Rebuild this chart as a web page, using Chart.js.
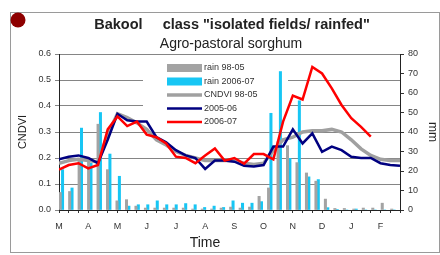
<!DOCTYPE html>
<html>
<head>
<meta charset="utf-8">
<script src="https://cdn.jsdelivr.net/npm/chart.js@4"></script>
<style>
html,body{margin:0;padding:0;background:#fff;}
#wrap{width:440px;height:255px;position:relative;}
</style>
</head>
<body>
<div id="wrap"><canvas id="c" width="440" height="255"></canvas></div>
<script>
// ---- data ----
const months = ['M','A','M','J','J','A','S','O','N','D','J','F'];
const dekadLabels = months.flatMap(m => [m + '1', m + '2', m + '3']);
const leftTicks = [0, 0.1, 0.2, 0.3, 0.4, 0.5, 0.6];
const rightTicks = [0, 10, 20, 30, 40, 50, 60, 70, 80];

const rain9805 = [9, 9.5, 25, 27, 44, 20.7, 4.7, 5.3, 2, 1, 1, 1, 1, 1, 0.5, 0.5, 0.5, 1, 1.5, 1, 1.5, 7, 11.3, 35, 33, 24.3, 19, 14.8, 5.6, 0.8, 0.8, 0.5, 1, 1, 3.5, 0.5];
const rain0607 = [20.7, 11.3, 42, 24, 50, 28.7, 17.3, 2, 2.7, 2.7, 4.7, 2.7, 2.7, 3.3, 2.7, 1.3, 2, 1.3, 4.7, 3.5, 3.5, 4.3, 49.6, 71, 26.5, 56, 17, 15.6, 1.2, 0.3, 0, 0.5, 0, 0, 0, 0];

const cndvi9805 = [0.18, 0.19, 0.195, 0.19, 0.185, 0.29, 0.37, 0.355, 0.335, 0.31, 0.27, 0.25, 0.225, 0.21, 0.2, 0.19, 0.19, 0.19, 0.19, 0.18, 0.175, 0.18, 0.23, 0.27, 0.28, 0.3, 0.305, 0.305, 0.31, 0.3, 0.27, 0.235, 0.21, 0.195, 0.19, 0.19];
const cndvi0506 = [0.195, 0.205, 0.21, 0.2, 0.18, 0.27, 0.37, 0.345, 0.34, 0.34, 0.28, 0.26, 0.23, 0.21, 0.2, 0.158, 0.19, 0.19, 0.186, 0.17, 0.167, 0.173, 0.244, 0.244, 0.31, 0.256, 0.295, 0.224, 0.244, 0.23, 0.205, 0.2, 0.2, 0.18, 0.173, 0.17];
const cndvi0607 = [0.155, 0.173, 0.18, 0.16, 0.173, 0.31, 0.36, 0.323, 0.34, 0.29, 0.28, 0.256, 0.205, 0.2, 0.18, 0.21, 0.237, 0.19, 0.2, 0.178, 0.215, 0.215, 0.195, 0.34, 0.44, 0.425, 0.55, 0.525, 0.468, 0.404, 0.353, 0.32, 0.282, null, null, null];

const titleText = 'Bakool     class "isolated fields/ rainfed"';
const subtitleText = 'Agro-pastoral sorghum';
const xTitle = 'Time';

// ---- helpers ----
const FONT = '"Liberation Sans", Arial, sans-serif';
const toXY = arr => arr.map((v, i) => ({x: i, y: v}));

const decor = {
  id: 'decor',
  beforeDraw(chart) {
    const ctx = chart.ctx;
    ctx.save();
    ctx.fillStyle = '#fff';
    ctx.fillRect(0, 0, chart.width, chart.height);
    // outer frame
    ctx.strokeStyle = '#9a9a9a';
    ctx.lineWidth = 1;
    ctx.strokeRect(10.5, 12.5, 429, 240);
    // red dot
    ctx.fillStyle = '#8e0000';
    ctx.beginPath();
    ctx.arc(18, 20, 7.5, 0, Math.PI * 2);
    ctx.fill();
    // titles
    ctx.fillStyle = '#222';
    ctx.textAlign = 'center';
    ctx.textBaseline = 'middle';
    ctx.font = 'bold 14.5px ' + FONT;
    ctx.fillText(titleText, 232, 25);
    ctx.font = '14px ' + FONT;
    ctx.fillText(subtitleText, 231, 44);
    ctx.font = '14px ' + FONT;
    ctx.fillText(xTitle, 205, 243);
    ctx.restore();
  },
  beforeDatasetsDraw(chart) {
    const ctx = chart.ctx;
    ctx.save();
    ctx.fillStyle = '#fff';
    ctx.fillRect(143, 57, 145, 71);
    const items = chart.data.datasets;
    ctx.font = '9px ' + FONT;
    ctx.textAlign = 'left';
    ctx.textBaseline = 'middle';
    items.forEach((ds, k) => {
      const y = 68 + k * 13.5;
      if (ds.type === 'bar') {
        ctx.fillStyle = ds.backgroundColor;
        ctx.fillRect(167, y - 4, 35, 8);
      } else {
        ctx.strokeStyle = ds.borderColor;
        ctx.lineWidth = ds.borderWidth;
        ctx.beginPath();
        ctx.moveTo(167, y);
        ctx.lineTo(202, y);
        ctx.stroke();
      }
      ctx.fillStyle = '#333';
      ctx.fillText(ds.label, 204, y);
    });
    ctx.restore();
  }
};

new Chart(document.getElementById('c'), {
  data: {
    labels: dekadLabels,
    datasets: [
      {type: 'bar', label: 'rain 98-05', data: rain9805, backgroundColor: '#a3a3a3', xAxisID: 'x', yAxisID: 'y2', order: 5, categoryPercentage: 1, barPercentage: 1},
      {type: 'bar', label: 'rain 2006-07', data: rain0607, backgroundColor: '#17c6f4', xAxisID: 'x', yAxisID: 'y2', order: 5, categoryPercentage: 1, barPercentage: 1},
      {type: 'line', label: 'CNDVI 98-05', data: toXY(cndvi9805), borderColor: '#a0a0a0', borderWidth: 3.5, pointRadius: 0, tension: 0, xAxisID: 'xl', yAxisID: 'y', order: 3},
      {type: 'line', label: '2005-06', data: toXY(cndvi0506), borderColor: '#000080', borderWidth: 2.5, pointRadius: 0, tension: 0, xAxisID: 'xl', yAxisID: 'y', order: 2},
      {type: 'line', label: '2006-07', data: toXY(cndvi0607), borderColor: '#ff0000', borderWidth: 2.5, pointRadius: 0, tension: 0, xAxisID: 'xl', yAxisID: 'y', order: 1, spanGaps: false}
    ]
  },
  options: {
    responsive: false,
    devicePixelRatio: 1,
    animation: false,
    layout: {padding: {top: 54, left: 0, right: 0, bottom: 0}},
    plugins: {legend: {display: false}, tooltip: {enabled: false}, title: {display: false}},
    scales: {
      x: {type: 'category', display: false, offset: true, grid: {display: false}},
      xl: {
        type: 'linear', position: 'bottom', min: 0, max: 35,
        afterFit: s => { s.height = 45; },
        afterBuildTicks: s => { s.ticks = Array.from({length: 36}, (_, i) => ({value: i})); },
        ticks: {
          autoSkip: false, maxRotation: 0, padding: 8,
          color: '#333', font: {size: 9, family: FONT},
          callback: v => (v % 3 === 0 ? months[v / 3] : '')
        },
        grid: {display: true, drawOnChartArea: false, tickLength: 3, color: '#333'},
        border: {display: true, color: '#222', width: 1}
      },
      y: {
        type: 'linear', position: 'left', min: 0, max: 0.6,
        afterFit: s => { s.width = 59; },
        afterBuildTicks: s => { s.ticks = leftTicks.map(v => ({value: v})); },
        ticks: {color: '#333', font: {size: 9, family: FONT}, padding: 4, callback: v => v.toFixed(1)},
        grid: {color: '#858585', lineWidth: 1, tickLength: 4},
        border: {display: true, color: '#222', width: 1},
        title: {display: true, text: 'CNDVI', color: '#222', font: {size: 11, family: FONT}, padding: {top: 16, bottom: 0}}
      },
      y2: {
        type: 'linear', position: 'right', min: 0, max: 80,
        afterFit: s => { s.width = 40; },
        afterBuildTicks: s => { s.ticks = rightTicks.map(v => ({value: v})); },
        ticks: {color: '#333', font: {size: 9, family: FONT}, padding: 4},
        grid: {drawOnChartArea: false, tickLength: 4, color: '#333'},
        border: {display: true, color: '#222', width: 1},
        title: {display: true, text: 'mm', color: '#222', font: {size: 12, family: FONT}, padding: {top: 0, bottom: 0}}
      }
    }
  },
  plugins: [decor]
});
</script>
</body>
</html>
